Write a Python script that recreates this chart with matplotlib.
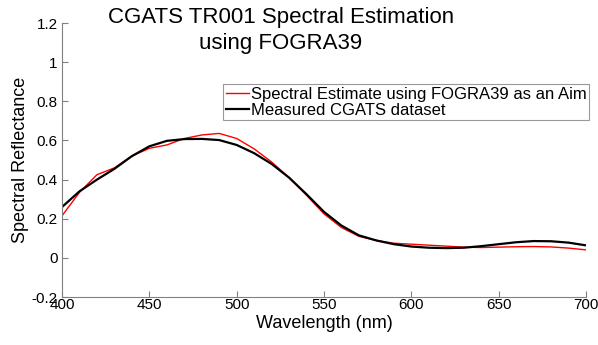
import matplotlib
matplotlib.use('Agg')
import matplotlib.pyplot as plt

plt.rcParams['font.family'] = ['Liberation Sans', 'DejaVu Sans']

# wavelength in nm
wavelength = [400, 410, 420, 430, 440, 450, 460, 470, 480, 490, 500,
              510, 520, 530, 540, 550, 560, 570, 580, 590, 600,
              610, 620, 630, 640, 650, 660, 670, 680, 690, 700]

# spectral estimate (red)
estimate = [0.215, 0.335, 0.425, 0.46, 0.52, 0.56, 0.577, 0.61, 0.628, 0.636, 0.61,
            0.557, 0.49, 0.41, 0.32, 0.225, 0.155, 0.11, 0.089, 0.075, 0.07,
            0.065, 0.06, 0.055, 0.053, 0.055, 0.057, 0.058, 0.056, 0.05, 0.041]

# measured CGATS (black)
measured = [0.26, 0.34, 0.40, 0.455, 0.52, 0.57, 0.598, 0.607, 0.608, 0.602, 0.577,
            0.535, 0.48, 0.41, 0.325, 0.235, 0.165, 0.115, 0.089, 0.07, 0.058,
            0.052, 0.05, 0.052, 0.06, 0.07, 0.08, 0.086, 0.085, 0.078, 0.064]

fig = plt.figure(figsize=(5.98, 3.45), dpi=100)
ax = fig.add_axes([0.1037, 0.139, 0.8763, 0.7943])

ax.plot(wavelength, estimate, color='red', linewidth=1.0,
        label='Spectral Estimate using FOGRA39 as an Aim')
ax.plot(wavelength, measured, color='black', linewidth=1.6,
        label='Measured CGATS dataset')

ax.set_xlim(400, 700)
ax.set_ylim(-0.2, 1.2)
ax.set_xticks([400, 450, 500, 550, 600, 650, 700])
ax.set_yticks([-0.2, 0, 0.2, 0.4, 0.6, 0.8, 1, 1.2])
ax.set_yticklabels(['-0.2', '0', '0.2', '0.4', '0.6', '0.8', '1', '1.2'])

for s in ['top', 'right']:
    ax.spines[s].set_visible(False)
for s in ['left', 'bottom']:
    ax.spines[s].set_color('#808080')
ax.tick_params(direction='in', length=4, color='#808080', labelsize=11)
ax.tick_params(axis='x', pad=1)
ax.tick_params(axis='y', pad=3)

ax.set_xlabel('Wavelength (nm)', fontsize=13, labelpad=2)
ax.set_ylabel('Spectral Reflectance', fontsize=13, labelpad=2)

# title sits inside the top of the plot area, a bit left of centre
fig.text(0.47, 0.912, 'CGATS TR001 Spectral Estimation\nusing FOGRA39',
         fontsize=16, ha='center', va='center', linespacing=1.3)

leg = ax.legend(loc='upper right', bbox_to_anchor=(1.006, 0.777), fontsize=12,
                frameon=True, fancybox=False, handlelength=1.4,
                handletextpad=0.1, borderpad=0.15, labelspacing=0.08,
                borderaxespad=0)
leg.get_frame().set_edgecolor('#808080')
leg.get_frame().set_linewidth(0.8)

fig.savefig('out.png', dpi=100)
